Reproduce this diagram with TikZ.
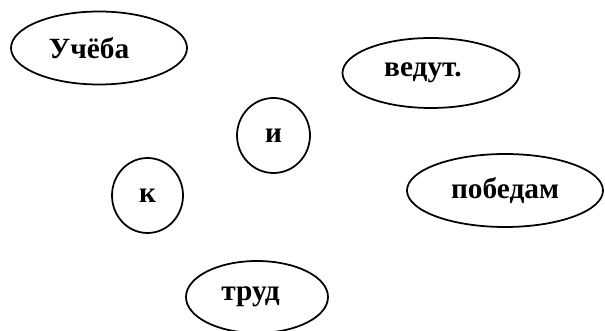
\documentclass[tikz,border=0pt]{standalone}
\usepackage{fontspec}
\setmainfont{Liberation Serif}
\usepackage{tikz}
\usetikzlibrary{
	shapes.geometric,
	positioning,
}

\begin{document}
\begin{tikzpicture}[
	line width=1pt,black,
	text=black,
	font=\bfseries\fontsize{16.7}{20}\selectfont,
	oval/.style={draw,ellipse,inner sep=0pt,minimum width=#1},
	oval/.default=3.52cm,
	]
	\useasboundingbox (0,0) rectangle (12.1,-6.62);
	\clip (0,0) rectangle (12.1,-6.62);
	
	%% line 1
	\node (ucheba) [oval,minimum height=1.46cm] at (1.98,-0.96) {Учёба\hspace*{0.4cm}};
	\node (vedut) [oval=3.54cm,minimum height=1.40cm] at (8.62,-1.46) {ведут.\hspace*{0.32cm}};
	
	%% line 2
	\node (i) [oval=1.46cm,minimum height=1.50cm] at (5.47,-2.71) {и};
	\node (k) [oval=1.42cm,minimum height=1.50cm] at (2.95,-3.91) {к};
	\node (pobedam) [oval=3.92cm,minimum height=1.46cm] at (10.10,-3.81) {победам};
	
	%% line 3
	\node (trud) [oval=2.84cm,minimum height=1.44cm] at (5.14,-5.94) {труд\hspace*{0.26cm}};
	
\end{tikzpicture}
\end{document}
